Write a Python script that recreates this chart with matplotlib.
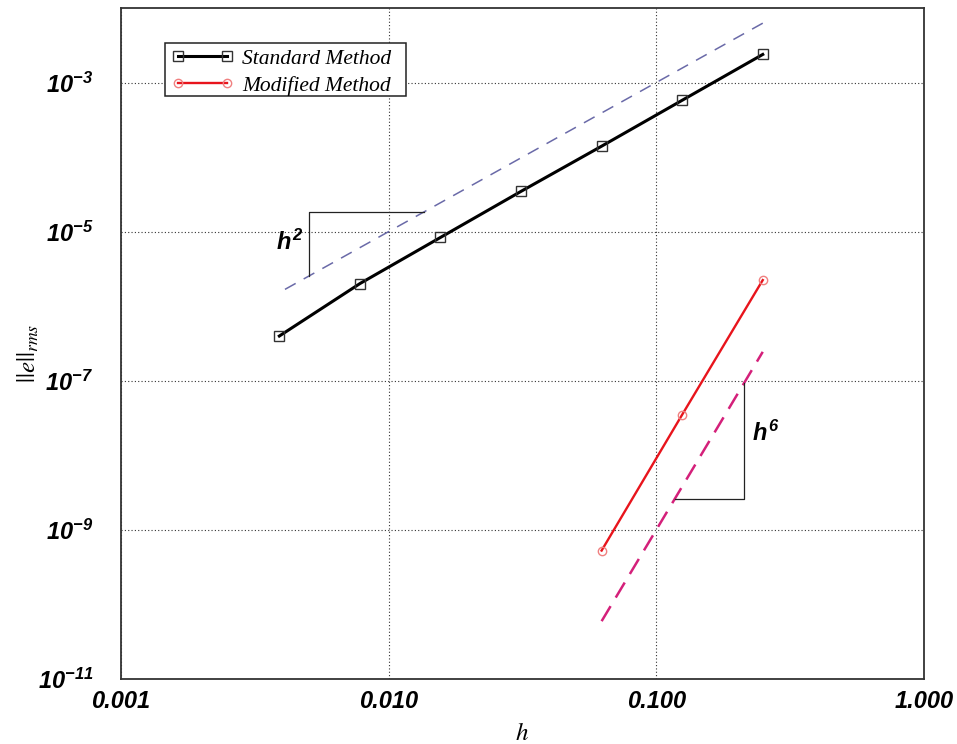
import matplotlib
matplotlib.use("Agg")
import matplotlib.pyplot as plt
import numpy as np
from matplotlib.ticker import FixedLocator, FixedFormatter, NullLocator
from matplotlib.patches import Rectangle

plt.rcParams['mathtext.fontset'] = 'custom'
plt.rcParams['mathtext.rm'] = 'Liberation Sans:italic:bold'
plt.rcParams['mathtext.it'] = 'Liberation Sans:italic:bold'
plt.rcParams['mathtext.bf'] = 'Liberation Sans:italic:bold'

# ---- data ----
h = [1/256, 1/128, 1/64, 1/32, 1/16, 1/8, 1/4]
err_standard = [3.98e-7, 2.01e-6, 8.36e-6, 3.47e-5, 1.40e-4, 5.78e-4, 2.38e-3]
h_mod = [1/16, 1/8, 1/4]
err_modified = [5.28e-10, 3.51e-8, 2.24e-6]

ref2_h = [0.0041, 0.25]
ref2_coef = 0.1
ref6_h = [1/16, 1/4]
ref6_coef = 1.0e-3

tri2_h = [0.00505, 0.01355]
tri6_h = [0.1173, 0.2128]

xticks = [0.001, 0.01, 0.1, 1.0]
xticklabels = ['0.001', '0.010', '0.100', '1.000']
yticks = [1e-11, 1e-9, 1e-7, 1e-5, 1e-3]
yticklabels = [r'$10^{-11}$', r'$10^{-9}$', r'$10^{-7}$', r'$10^{-5}$', r'$10^{-3}$']

legend_labels = ['Standard Method', 'Modified Method']

# ---- figure ----
fig = plt.figure(figsize=(9.57, 7.44), dpi=100)
ax = fig.add_axes([0.1264, 0.0874, 0.839, 0.9019])
ax.set_xscale('log')
ax.set_yscale('log')
ax.set_xlim(0.001, 1.0)
ax.set_ylim(1e-11, 1e-2)

# reference slopes
r2 = np.array(ref2_h)
ax.plot(r2, ref2_coef * r2**2, color='#6a6aa8', lw=1.1, dashes=(8, 6), zorder=2)
r6 = np.array(ref6_h)
ax.plot(r6, ref6_coef * r6**6, color='#d4207a', lw=1.8, dashes=(7, 4), zorder=2)

# slope triangles
t2 = np.array(tri2_h)
ax.plot([t2[0], t2[0], t2[1]],
        [ref2_coef * t2[0]**2, ref2_coef * t2[1]**2, ref2_coef * t2[1]**2],
        color='#222222', lw=0.9, zorder=2)
t6 = np.array(tri6_h)
ax.plot([t6[0], t6[1], t6[1]],
        [ref6_coef * t6[0]**6, ref6_coef * t6[0]**6, ref6_coef * t6[1]**6],
        color='#222222', lw=0.9, zorder=2)

ax.text(0.00428, 7.1e-6, r'$h^{2}$', fontsize=17, ha='center', va='center', color='black')
ax.text(0.2566, 1.96e-8, r'$h^{6}$', fontsize=17, ha='center', va='center', color='black')

# data series
ax.plot(h, err_standard, color='black', lw=2.2, marker='s', ms=7,
        mfc='none', mec='#333333', mew=1.0, label=legend_labels[0], zorder=3)
ax.plot(h_mod, err_modified, color='#e8141c', lw=1.7, marker='o', ms=6,
        mfc='none', mec='#f08080', mew=1.0, label=legend_labels[1], zorder=3)

# ticks / grid
ax.xaxis.set_major_locator(FixedLocator(xticks))
ax.xaxis.set_major_formatter(FixedFormatter(xticklabels))
ax.xaxis.set_minor_locator(NullLocator())
ax.yaxis.set_major_locator(FixedLocator(yticks))
ax.yaxis.set_major_formatter(FixedFormatter(yticklabels))
ax.yaxis.set_minor_locator(NullLocator())
ax.tick_params(axis='both', length=0)
ax.tick_params(axis='x', pad=8)
ax.tick_params(axis='y', pad=20)
for lab in ax.get_xticklabels():
    lab.set_fontfamily('Liberation Sans')
    lab.set_fontweight('bold')
    lab.set_fontstyle('italic')
    lab.set_fontsize(17)
for lab in ax.get_yticklabels():
    lab.set_fontsize(17)

ax.grid(True, which='major', color='#333333', linestyle=(0, (1, 2)), linewidth=0.8)
ax.set_axisbelow(True)

for s in ax.spines.values():
    s.set_color('#333333')
    s.set_linewidth(1.3)

ax.set_xlabel(r'$h$', fontsize=18, math_fontfamily='stix')
ax.xaxis.set_label_coords(0.5, -0.062)
ax.set_ylabel(r'$||e||_{rms}$', fontsize=18, math_fontfamily='stix')
ax.yaxis.set_label_coords(-0.100, 0.486)

# legend box (drawn separately to match the wide frame)
ax.add_patch(Rectangle((0.0548, 0.8689), 0.3001, 0.0789, transform=ax.transAxes,
                       facecolor='white', edgecolor='#222222', lw=1.1, zorder=4))
leg = ax.legend(loc='upper left', bbox_to_anchor=(0.0625, 0.9395), borderaxespad=0,
                numpoints=2, handlelength=2.9, handletextpad=0.38, frameon=False,
                borderpad=0.0, labelspacing=0.32,
                prop={'family': 'Liberation Serif', 'style': 'italic', 'size': 15.5})
leg.set_zorder(5)

fig.savefig('out.png', dpi=100)
